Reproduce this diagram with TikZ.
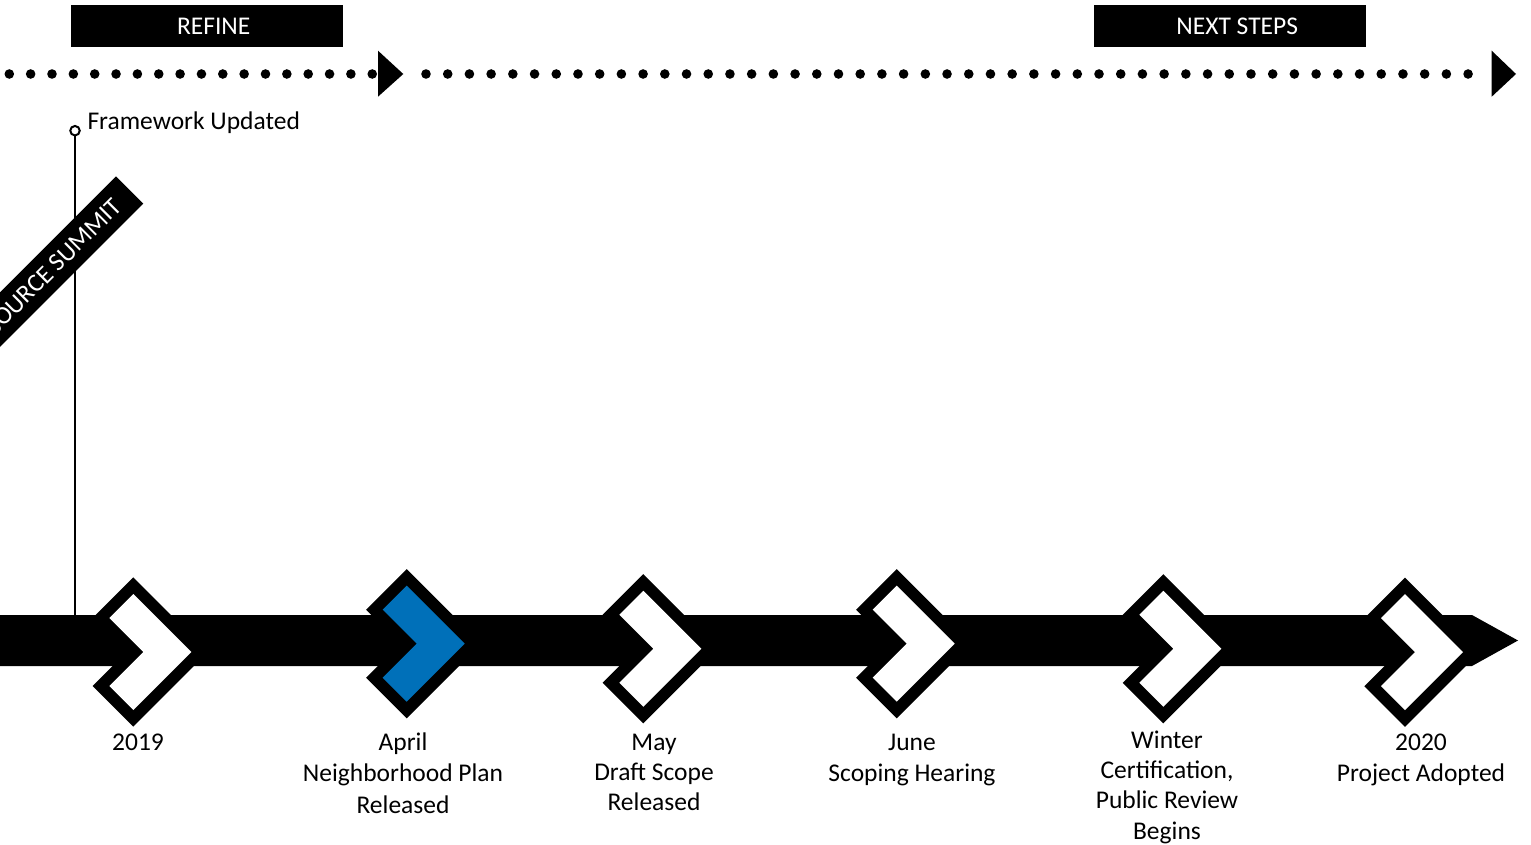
\documentclass[tikz,border=0pt]{standalone}
\usepackage{fontspec}
\setmainfont{Carlito}
\definecolor{chevblue}{RGB}{0,112,185}
\tikzset{
  lab/.style={font=\fontsize{25.5}{#1}\selectfont, align=center, anchor=base, inner sep=0pt},
  lab/.default=31,
  tagbox/.style={fill=black, text=white, minimum width=272.3pt, minimum height=41.7pt, inner sep=0pt, font=\fontsize{25.5}{30}\selectfont},
  chevron/.pic={
    \draw[line width=23.5pt, line join=miter] (0,-58) -- (58,0) -- (0,58) -- (-24,34) -- (10,0) -- (-24,-34) -- cycle;
    \fill[#1] (0,-58) -- (58,0) -- (0,58) -- (-24,34) -- (10,0) -- (-24,-34) -- cycle;
  }
}
\begin{document}
\begin{tikzpicture}[x=1pt,y=-1pt]
\useasboundingbox (0,0) rectangle (1531,845);
\clip (0,0) rectangle (1531,845);
\fill[white] (0,0) rectangle (1531,845);

% phase boxes
\node[tagbox] (refine) at (207.2,25.85) {\hspace*{13pt}REFINE};
\node[tagbox] (next) at (1229.7,25.85) {\hspace*{15pt}NEXT STEPS};

% dotted arrows
\foreach \i in {0,...,17} \fill ({9.3+21.35*\i},74) circle (4.8pt);
\fill (378,50.7) -- (403.3,74) -- (378,96.7) -- cycle;
\foreach \i in {0,...,48} \fill ({426+21.71*\i},74) circle (4.8pt);
\fill (1491.7,50.7) -- (1516,74) -- (1491.7,96.7) -- cycle;

% framework updated marker
\node[circle, draw, line width=2pt, minimum size=9.5pt, inner sep=0pt] (fwpin) at (75,130.7) {};
\coordinate (fwfoot) at (75,617);
\draw[line width=2.3pt] (fwpin) -- (fwfoot);
\node[anchor=base west, inner sep=0pt, font=\fontsize{25.5}{30}\selectfont] (fwtext) at (87.3,129.3) {Framework Updated};

% diagonal banner
\begin{scope}[shift={(129.7,190)}, rotate=45]
  \fill (-340,-19.3) rectangle (0,19.3);
\end{scope}
\node[rotate=45, anchor=east, text=white, inner sep=0pt, font=\fontsize{25.5}{30}\selectfont] (summit) at (117.3,202.4) {RESOURCE SUMMIT};

% main timeline bar
\fill (-5,615) -- (1472,615) -- (1518,640.5) -- (1472,666) -- (-5,666) -- cycle;

% chevrons
\pic at (133.3,652) {chevron=white};
\pic at (406.7,643.7) {chevron=chevblue};
\pic at (643.3,648.8) {chevron=white};
\pic at (896.7,643.7) {chevron=white};
\pic at (1163.3,648.8) {chevron=white};
\pic at (1405,652.2) {chevron=white};

% labels (anchored at the baseline of the last line)
\node[lab] (l2019) at (138,750) {2019};
\node[lab=31.6] (lapr) at (403,813.3) {April\\Neighborhood Plan\\Released};
\node[lab=30] (lmay) at (654,810.7) {May\\Draft Scope\\Released};
\node[lab] (ljun) at (912,781) {June\\Scoping Hearing};
\node[lab=30.3] (lwin) at (1167,839.2) {Winter\\Certification,\\Public Review\\Begins};
\node[lab] (l2020) at (1421,781.7) {2020\\Project Adopted};
\end{tikzpicture}
\end{document}
